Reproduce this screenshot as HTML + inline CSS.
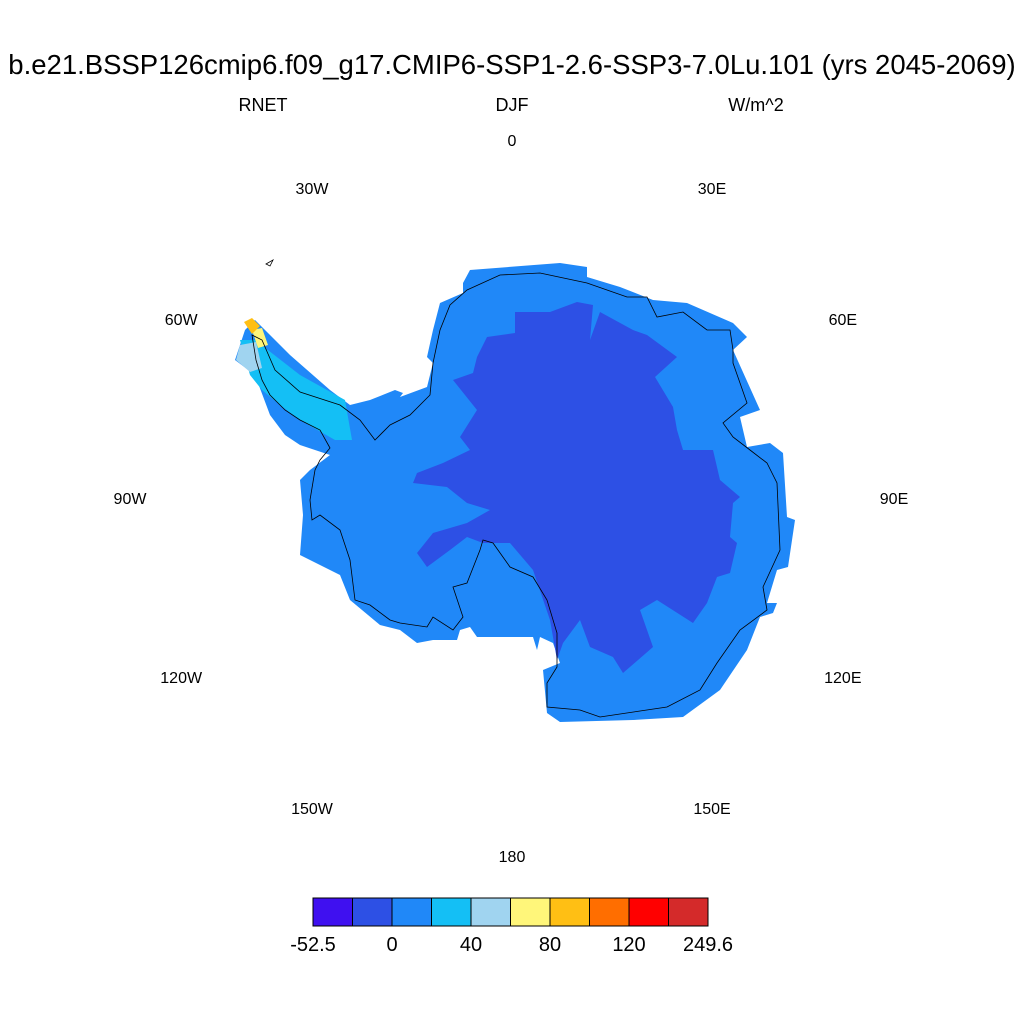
<!DOCTYPE html>
<html><head><meta charset="utf-8"><style>
body{margin:0;background:#fff;width:1024px;height:1024px;overflow:hidden;font-family:"Liberation Sans",sans-serif}
text{font-family:"Liberation Sans",sans-serif}
</style></head><body>
<svg width="1024" height="1024" viewBox="0 0 1024 1024">
<text x="512" y="74" font-size="27.5" text-anchor="middle">b.e21.BSSP126cmip6.f09_g17.CMIP6-SSP1-2.6-SSP3-7.0Lu.101 (yrs 2045-2069)</text>
<text x="263" y="111" font-size="18" text-anchor="middle">RNET</text>
<text x="512" y="111" font-size="18" text-anchor="middle">DJF</text>
<text x="756" y="111" font-size="18" text-anchor="middle">W/m^2</text>
<g id="lonlabels" font-size="16" text-anchor="middle"></g>
<g>
<polygon fill="#2088f8" points="470,270 560,263 587,267 587,277 620,287 653,300 687,303 733,323 747,337 733,350 760,410 740,417 747,447 770,443 783,453 787,517 795,520 788,567 777,570 767,603 777,603 773,613 760,617 747,650 720,690 683,717 633,720 560,722 547,713 543,670 560,663 553,643 540,637 537,650 533,637 477,637 470,627 460,630 457,640 433,640 417,643 400,630 380,625 350,600 340,575 300,555 303,515 300,480 310,470 330,455 300,445 285,435 270,415 255,375 235,360 245,330 255,320 290,355 330,390 350,405 370,400 395,390 403,393 400,397 427,387 433,363 427,357 433,330 440,303 463,293 463,283"/>
<polygon fill="#2d50e5" points="515,312 550,312 577,302 593,305 590,340 600,312 633,330 647,335 677,357 655,377 673,407 677,430 683,450 713,450 720,480 740,497 733,503 730,537 737,543 730,573 717,577 707,603 693,623 657,600 640,610 653,647 623,673 613,657 590,647 580,620 563,643 557,660 550,620 533,570 510,543 483,543 467,537 450,550 427,567 417,553 433,533 467,523 490,510 467,503 447,487 413,483 417,473 443,463 470,450 460,437 477,410 453,380 473,373 477,357 487,337 515,333"/>
<polygon fill="#14bff5" points="240,340 255,340 300,375 345,400 352,440 335,440 300,420 280,405 262,390 250,375"/>
<polygon fill="#a0d4f0" points="240,345 256,342 262,368 250,372 236,360"/>
<polygon fill="#fff67a" points="252,330 262,328 268,345 258,348"/>
<polygon fill="#ffbf14" points="244,322 252,318 260,326 252,334"/>
<path fill="none" stroke="#000" stroke-width="0.8" d="M467,290 L500,275 L540,273 L587,283 L627,297 L647,297 L657,317 L683,312 L707,330 L730,330 L733,350 L733,363 L747,403 L723,423 L733,437 L750,450 L767,463 L777,483 L780,550 L763,587 L767,610 L740,630 L717,663 L700,690 L667,707 L600,717 L580,710 L547,707 L547,683 L557,667 L557,633 L547,600 L533,577 L510,567 L493,543 L483,540 L480,550 L467,583 L453,587 L463,617 L453,630 L433,617 L427,627 L400,623 L390,620 L370,605 L355,600 L350,560 L345,545 L340,530 L320,515 L312,520 L310,500 L315,470 L320,460 L330,448 L320,430 L300,420 L285,410 L270,395 L262,380 L256,360 L252,335 L262,340 L275,370 L300,392 L340,405 L360,420 L375,440 L390,425 L410,415 L430,395 L433,363 L440,330 L450,305 Z"/>
<path fill="none" stroke="#000" stroke-width="0.8" d="M266,264 L273,260 L270,266 Z"/>
</g>
<g id="cbar"></g>
</svg>
<script>
const lonLabels=['0','30E','60E','90E','120E','150E','180','150W','120W','90W','60W','30W'];
const lonAngles=[0,30,60,90,120,150,180,210,240,270,300,330];
const cbColors=['#3f10f0','#2d50e5','#2088f8','#14bff5','#a0d4f0','#fff67a','#ffbf14','#ff6e00','#ff0000','#d42a2a'];
const cbTickLabels=['-52.5','0','40','80','120','249.6'];
const cbTickIndex=[0,2,4,6,8,10];
const NS='http://www.w3.org/2000/svg';
const cx=512,cy=498,ry=358;
const lg=document.getElementById('lonlabels');
lonAngles.forEach((a,i)=>{
  const t=document.createElementNS(NS,'text');
  const m=a%180;
  const rx=(m===30||m===150)?400:382;
  const rad=a*Math.PI/180;
  t.setAttribute('x',cx+rx*Math.sin(rad));
  t.setAttribute('y',cy-ry*Math.cos(rad)+6);
  t.textContent=lonLabels[i];
  
  
  lg.appendChild(t);
});
const cb=document.getElementById('cbar');
const x0=313,w=39.5,y0=898,h=28;
cbColors.forEach((c,i)=>{
  const r=document.createElementNS(NS,'rect');
  r.setAttribute('x',x0+i*w);r.setAttribute('y',y0);r.setAttribute('width',w);r.setAttribute('height',h);
  r.setAttribute('fill',c);r.setAttribute('stroke','#000');r.setAttribute('stroke-width','1');
  
  
  cb.appendChild(r);
});
cbTickLabels.forEach((l,i)=>{
  const t=document.createElementNS(NS,'text');
  t.setAttribute('x',x0+cbTickIndex[i]*w);t.setAttribute('y',951);
  t.setAttribute('font-size','20');t.setAttribute('text-anchor','middle');
  t.textContent=l;
  
  
  cb.appendChild(t);
});
</script>
</body></html>
